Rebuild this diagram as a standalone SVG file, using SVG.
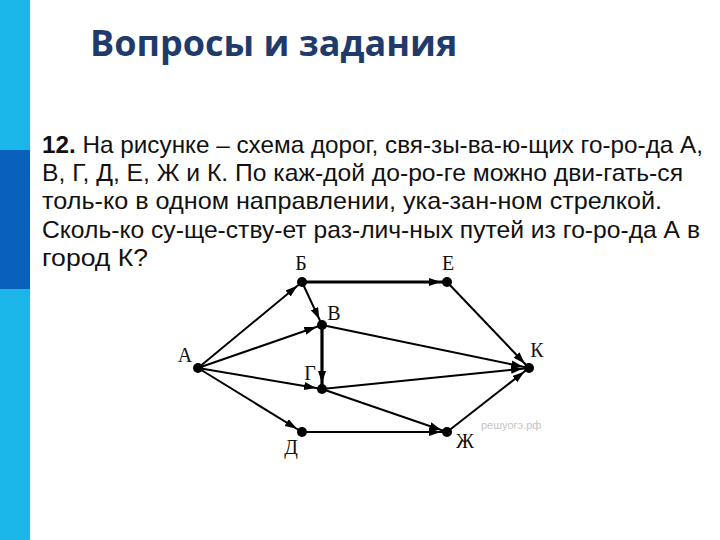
<svg xmlns="http://www.w3.org/2000/svg" width="720" height="540" viewBox="0 0 720 540">
<style>
.title{font-family:"Open Sans","Liberation Sans",sans-serif;font-weight:bold;font-size:36px;fill:#1f3b6b}
.body{font-family:"Liberation Sans Narrow","Liberation Sans",Arial,sans-serif;font-size:24px;fill:#111}
.lbl{font-family:"Liberation Serif","Times New Roman",serif;font-size:20px;fill:#111;text-anchor:middle}
.e{stroke:#000;stroke-width:2;fill:none;marker-end:url(#ah)}
.t{stroke-width:3.2}
.n{fill:#000}
</style>
<defs>
<marker id="ah" markerUnits="userSpaceOnUse" markerWidth="20" markerHeight="10" refX="18" refY="4" orient="auto">
<path d="M0,0 L12,4 L0,8 Z" fill="#000"/>
</marker>
</defs>
<rect x="0" y="0" width="720" height="540" fill="#fff"/>
<rect x="0" y="0" width="30" height="150" fill="#1ab6ea"/>
<rect x="0" y="150" width="30" height="139" fill="#0960bd"/>
<rect x="0" y="289" width="30" height="251" fill="#1ab6ea"/>
<text class="title" x="90" y="56">Вопросы и задания</text>
<g id="question">
<text class="body" x="42" y="153" textLength="661" lengthAdjust="spacingAndGlyphs"><tspan font-weight="bold">12.</tspan> На рисунке – схема дорог, свя-зы-ва-ю-щих го-ро-да А,</text>
<text class="body" x="42" y="181" textLength="641" lengthAdjust="spacingAndGlyphs">В, Г, Д, Е, Ж и К. По каж-дой до-ро-ге можно дви-гать-ся</text>
<text class="body" x="42" y="209" textLength="620" lengthAdjust="spacingAndGlyphs">толь-ко в одном направлении, ука-зан-ном стрелкой.</text>
<text class="body" x="42" y="238" textLength="658" lengthAdjust="spacingAndGlyphs">Сколь-ко су-ще-ству-ет раз-лич-ных путей из го-ро-да А в</text>
<text class="body" x="42" y="266" textLength="106" lengthAdjust="spacingAndGlyphs">город К?</text>
</g>
<g id="connectors">
<line class="e" x1="198" y1="368" x2="302" y2="282"/>
<line class="e" x1="198" y1="368" x2="322" y2="325"/>
<line class="e" x1="198" y1="368" x2="322" y2="389"/>
<line class="e" x1="198" y1="368" x2="302" y2="432"/>
<line class="e" x1="302" y1="282" x2="322" y2="325"/>
<line class="e t" x1="302" y1="282" x2="447" y2="282"/>
<line class="e t" x1="322" y1="325" x2="322" y2="389"/>
<line class="e" x1="322" y1="325" x2="529" y2="368"/>
<line class="e" x1="322" y1="389" x2="529" y2="368"/>
<line class="e" x1="322" y1="389" x2="447" y2="432"/>
<line class="e" x1="302" y1="432" x2="447" y2="432"/>
<line class="e" x1="447" y1="282" x2="529" y2="368"/>
<line class="e" x1="447" y1="432" x2="529" y2="368"/>
</g>
<g id="node-A"><circle class="n" cx="198" cy="368" r="5"/><text class="lbl" x="185" y="362">А</text></g>
<g id="node-B"><circle class="n" cx="302" cy="282" r="5"/><text class="lbl" x="301" y="270">Б</text></g>
<g id="node-V"><circle class="n" cx="322" cy="325" r="5"/><text class="lbl" x="334" y="320">В</text></g>
<g id="node-G"><circle class="n" cx="322" cy="389" r="5"/><text class="lbl" x="310" y="380">Г</text></g>
<g id="node-D"><circle class="n" cx="302" cy="432" r="5"/><text class="lbl" x="291" y="454">Д</text></g>
<g id="node-E"><circle class="n" cx="447" cy="282" r="5"/><text class="lbl" x="448" y="270">Е</text></g>
<g id="node-Zh"><circle class="n" cx="447" cy="432" r="5"/><text class="lbl" x="465" y="448">Ж</text></g>
<g id="node-K"><circle class="n" cx="529" cy="368" r="5"/><text class="lbl" x="537" y="357">К</text></g>
<text x="481" y="429" font-family="Liberation Sans,sans-serif" font-size="11" fill="#c4c4c4">решуогэ.рф</text>
</svg>
